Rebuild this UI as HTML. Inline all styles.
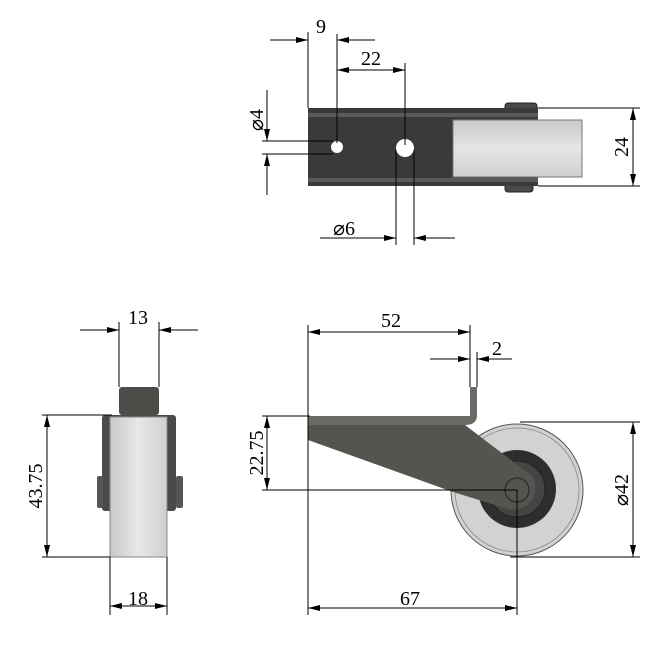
<!DOCTYPE html>
<html><head><style>
html,body{margin:0;padding:0;background:#fff;}
svg{display:block;}
text{font-family:"Liberation Serif",serif;font-size:20px;fill:#000;}
</style></head><body>
<svg width="651" height="651" viewBox="0 0 651 651" xmlns="http://www.w3.org/2000/svg">
<defs>
<marker id="a" viewBox="0 0 12 6" refX="12" refY="3" markerWidth="12" markerHeight="6" orient="auto-start-reverse" markerUnits="userSpaceOnUse">
<path d="M0,0 L12,3 L0,6 Z" fill="#000"/></marker>
<linearGradient id="wg" x1="0" x2="0" y1="0" y2="1"><stop offset="0" stop-color="#c8c8c8"/><stop offset="0.5" stop-color="#e6e6e6"/><stop offset="1" stop-color="#cfcfcf"/></linearGradient>
<linearGradient id="wg2" x1="0" x2="1" y1="0" y2="0"><stop offset="0" stop-color="#c8c8c8"/><stop offset="0.5" stop-color="#e8e8e8"/><stop offset="1" stop-color="#cfcfcf"/></linearGradient>
</defs>

<!-- TOP VIEW -->
<rect x="505" y="103" width="32" height="10" rx="3" fill="#4a4a48" stroke="#222"/>
<rect x="505" y="181" width="28" height="11" rx="3" fill="#4a4a48" stroke="#222"/>
<rect x="308" y="108" width="230" height="78" fill="#3a3a38"/>
<rect x="308" y="113" width="230" height="4" fill="#5a5a58"/>
<rect x="308" y="178" width="230" height="4" fill="#5a5a58"/>
<rect x="453" y="120" width="129" height="57" fill="url(#wg)" stroke="#777"/>
<circle cx="337" cy="147" r="6" fill="#fff"/>
<circle cx="405" cy="148" r="9" fill="#fff"/>
<g stroke="#000" stroke-width="1" fill="none">
<line x1="308" y1="32" x2="308" y2="108"/>
<line x1="337" y1="34" x2="337" y2="143"/>
<line x1="270" y1="40" x2="308" y2="40" marker-end="url(#a)"/>
<line x1="375" y1="40" x2="337" y2="40" marker-end="url(#a)"/>
<line x1="337" y1="70" x2="405" y2="70" marker-start="url(#a)" marker-end="url(#a)"/>
<line x1="405" y1="63" x2="405" y2="145"/>
<line x1="262" y1="141" x2="333" y2="141"/>
<line x1="262" y1="154" x2="333" y2="154"/>
<line x1="267" y1="90" x2="267" y2="141" marker-end="url(#a)"/>
<line x1="267" y1="195" x2="267" y2="154" marker-end="url(#a)"/>
<line x1="396" y1="150" x2="396" y2="245"/>
<line x1="414" y1="150" x2="414" y2="245"/>
<line x1="320" y1="238" x2="396" y2="238" marker-end="url(#a)"/>
<line x1="455" y1="238" x2="414" y2="238" marker-end="url(#a)"/>
<line x1="538" y1="108" x2="640" y2="108"/>
<line x1="538" y1="186" x2="640" y2="186"/>
<line x1="633" y1="108" x2="633" y2="186" marker-start="url(#a)" marker-end="url(#a)"/>
</g>
<text x="316" y="33">9</text>
<text x="361" y="65">22</text>
<text transform="translate(263,120) rotate(-90)" text-anchor="middle">⌀4</text>
<text x="333" y="235">⌀6</text>
<text transform="translate(628,147) rotate(-90)" text-anchor="middle">24</text>

<!-- SIDE VIEW -->
<circle cx="517" cy="490" r="66" fill="#d2d2d2" stroke="#555"/>
<circle cx="517" cy="490" r="62" fill="none" stroke="#888" stroke-width="0.8"/>
<circle cx="517" cy="489" r="39" fill="#2e2e2e"/>
<circle cx="517" cy="489" r="28" fill="#444" stroke="#222"/>
<path d="M470,387 L477,387 L477,415 Q477,425 465,425 L308,425 L308,416 L470,416 Z" fill="#6a6a66"/>
<path d="M308,425 L465,425 L532,476 A22,22 0 0 1 505,508 L453,492 L308,440 Z" fill="#55554f"/>
<circle cx="517" cy="490" r="12" fill="none" stroke="#222"/>
<g stroke="#000" stroke-width="1" fill="none">
<line x1="308" y1="325" x2="308" y2="615"/>
<line x1="470" y1="325" x2="470" y2="387"/>
<line x1="477" y1="352" x2="477" y2="387"/>
<line x1="308" y1="332" x2="470" y2="332" marker-start="url(#a)" marker-end="url(#a)"/>
<line x1="430" y1="359" x2="470" y2="359" marker-end="url(#a)"/>
<line x1="512" y1="359" x2="477" y2="359" marker-end="url(#a)"/>
<line x1="262" y1="416" x2="310" y2="416"/>
<line x1="262" y1="490" x2="517" y2="490"/>
<line x1="267" y1="416" x2="267" y2="490" marker-start="url(#a)" marker-end="url(#a)"/>
<line x1="517" y1="490" x2="517" y2="615"/>
<line x1="520" y1="422" x2="640" y2="422"/>
<line x1="510" y1="557" x2="640" y2="557"/>
<line x1="633" y1="422" x2="633" y2="557" marker-start="url(#a)" marker-end="url(#a)"/>
<line x1="308" y1="608" x2="517" y2="608" marker-start="url(#a)" marker-end="url(#a)"/>
</g>
<text x="381" y="327">52</text>
<text x="492" y="355">2</text>
<text transform="translate(263,453) rotate(-90)" text-anchor="middle">22.75</text>
<text transform="translate(628,490) rotate(-90)" text-anchor="middle">⌀42</text>
<text x="400" y="605">67</text>

<!-- FRONT VIEW -->
<rect x="119" y="387" width="40" height="28" rx="3" fill="#4c4c48"/>
<rect x="102" y="415" width="74" height="96" rx="3" fill="#4a4a46"/>
<rect x="97" y="476" width="6" height="32" rx="2" fill="#555"/>
<rect x="176" y="476" width="7" height="32" rx="2" fill="#555"/>
<rect x="110" y="417" width="57" height="140" fill="url(#wg2)" stroke="#888"/>
<g stroke="#000" stroke-width="1" fill="none">
<line x1="119" y1="322" x2="119" y2="387"/>
<line x1="159" y1="322" x2="159" y2="387"/>
<line x1="80" y1="330" x2="119" y2="330" marker-end="url(#a)"/>
<line x1="198" y1="330" x2="159" y2="330" marker-end="url(#a)"/>
<line x1="42" y1="415" x2="112" y2="415"/>
<line x1="42" y1="557" x2="110" y2="557"/>
<line x1="47" y1="415" x2="47" y2="557" marker-start="url(#a)" marker-end="url(#a)"/>
<line x1="110" y1="557" x2="110" y2="615"/>
<line x1="167" y1="557" x2="167" y2="615"/>
<line x1="110" y1="606" x2="167" y2="606" marker-start="url(#a)" marker-end="url(#a)"/>
</g>
<text x="128" y="324">13</text>
<text transform="translate(42,486) rotate(-90)" text-anchor="middle">43.75</text>
<text x="128" y="605">18</text>
</svg>
</body></html>
